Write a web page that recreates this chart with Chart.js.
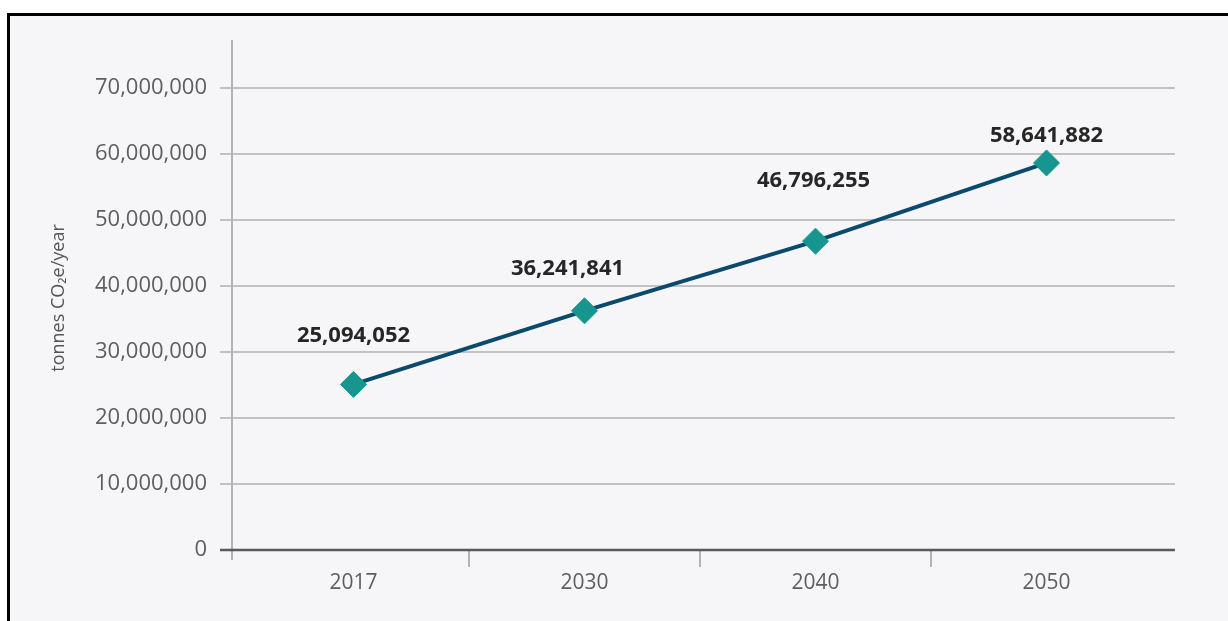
<!DOCTYPE html>
<html>
<head>
<meta charset="utf-8">
<script src="https://cdn.jsdelivr.net/npm/chart.js@4"></script>
<style>
  html, body { margin: 0; padding: 0; background: #fff; }
  #chart { display: block; }
</style>
</head>
<body>
<canvas id="chart" width="1228" height="621"></canvas>
<script>
// data
const years = ['2017', '2030', '2040', '2050'];
const emissions = [25094052, 36241841, 46796255, 58641882];
const yMax = 70000000;
const yStep = 10000000;
const yTitle = 'tonnes CO\u2082e/year';

// label nudges (px) so the numbers sit where the original has them
const labelShift = [[0, -49], [-17, -42], [-2, -60], [0, -27]];

const fmt = v => Number(v).toLocaleString('en-US');

const framePlugin = {
  id: 'frame',
  beforeDraw(chart) {
    const ctx = chart.ctx;
    ctx.save();
    ctx.fillStyle = '#ffffff';
    ctx.fillRect(0, 0, chart.width, chart.height);
    ctx.fillStyle = '#f6f6f8';
    ctx.fillRect(8, 14, chart.width - 8, chart.height - 14);
    ctx.strokeStyle = '#000';
    ctx.lineWidth = 3;
    ctx.beginPath();
    ctx.moveTo(8.5, chart.height);
    ctx.lineTo(8.5, 14.5);
    ctx.lineTo(chart.width, 14.5);
    ctx.stroke();
    ctx.restore();
  },
  beforeDatasetsDraw(chart) {
    const ctx = chart.ctx;
    const x = chart.scales.x;
    const y = chart.scales.y;
    const left = 220, right = 1175, axisX = 232;
    ctx.save();
    // horizontal grid
    ctx.strokeStyle = '#c2c2c4';
    ctx.lineWidth = 2;
    y.ticks.forEach(t => {
      if (t.value === 0) return;
      const py = Math.round(y.getPixelForValue(t.value));
      ctx.beginPath();
      ctx.moveTo(left, py);
      ctx.lineTo(right, py);
      ctx.stroke();
    });
    // vertical axis line
    ctx.strokeStyle = '#b4b4b6';
    ctx.beginPath();
    ctx.moveTo(axisX, 40);
    ctx.lineTo(axisX, 560);
    ctx.stroke();
    // category separators under the axis
    for (let i = 1; i < years.length; i++) {
      const px = Math.round((x.getPixelForValue(i - 1) + x.getPixelForValue(i)) / 2);
      ctx.beginPath();
      ctx.moveTo(px, y.bottom);
      ctx.lineTo(px, y.bottom + 17);
      ctx.stroke();
    }
    // baseline
    ctx.strokeStyle = '#5a5a5c';
    ctx.lineWidth = 2.5;
    ctx.beginPath();
    ctx.moveTo(left, y.bottom);
    ctx.lineTo(right, y.bottom);
    ctx.stroke();
    // y title
    ctx.translate(59, 298);
    ctx.rotate(-Math.PI / 2);
    ctx.fillStyle = '#555';
    ctx.font = '18px "Open Sans"';
    ctx.textAlign = 'center';
    ctx.textBaseline = 'middle';
    ctx.fillText(yTitle, 0, 0);
    ctx.restore();
  },
  afterDatasetsDraw(chart) {
    const ctx = chart.ctx;
    const meta = chart.getDatasetMeta(0);
    ctx.save();
    ctx.fillStyle = '#262626';
    ctx.font = 'bold 22px "Open Sans"';
    ctx.textAlign = 'center';
    ctx.textBaseline = 'middle';
    meta.data.forEach((pt, i) => {
      const s = labelShift[i];
      ctx.fillText(fmt(emissions[i]), pt.x + s[0], pt.y + s[1]);
    });
    ctx.restore();
  }
};

new Chart(document.getElementById('chart'), {
  type: 'line',
  data: {
    labels: years,
    datasets: [{
      data: emissions,
      borderColor: '#0b4a6c',
      borderWidth: 4,
      pointStyle: 'rectRot',
      pointRadius: 13,
      pointBackgroundColor: '#17968f',
      pointBorderColor: '#17968f',
      pointBorderWidth: 1,
      tension: 0
    }]
  },
  options: {
    responsive: false,
    animation: false,
    devicePixelRatio: 1,
    layout: { padding: { top: 88, right: 66, left: 0, bottom: 0 } },
    plugins: { legend: { display: false }, tooltip: { enabled: false } },
    scales: {
      x: {
        offset: true,
        grid: { display: false, drawTicks: false },
        border: { display: false },
        ticks: { color: '#5e5e5e', font: { family: 'Open Sans', size: 21 }, padding: 20 },
        afterFit(scale) { scale.height = 71; }
      },
      y: {
        min: 0,
        max: yMax,
        grid: { display: false, drawTicks: false },
        border: { display: false },
        ticks: {
          stepSize: yStep,
          color: '#5e5e5e',
          font: { family: 'Open Sans', size: 22 },
          padding: 31,
          callback: v => fmt(v)
        },
        afterFit(scale) { scale.width = 238; }
      }
    }
  },
  plugins: [framePlugin]
});
</script>
</body>
</html>
